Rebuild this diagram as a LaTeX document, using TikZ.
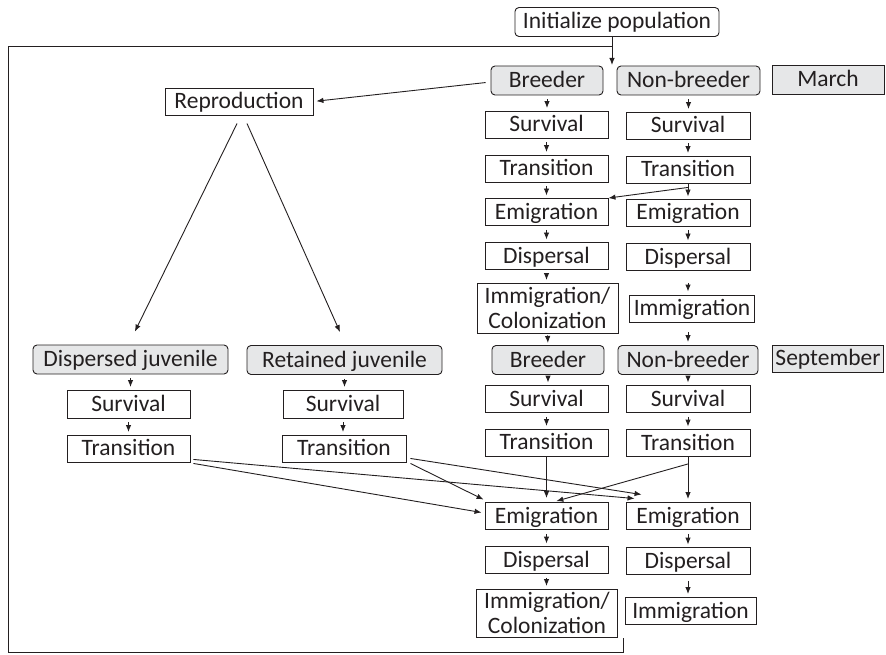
\documentclass[tikz,border=0pt]{standalone}
\usepackage{fontspec}
\setmainfont{Carlito}
\usetikzlibrary{arrows.meta,calc}
\definecolor{linec}{HTML}{231F20}
\definecolor{txtc}{HTML}{231F20}
\definecolor{gfill}{HTML}{E6E7E8}
\begin{document}
\begin{tikzpicture}[x=1pt,y=-1pt,
  every node/.style={font=\fontsize{23.5}{24.5}\selectfont, text=txtc},
  box/.style={draw=linec, line width=0.9pt, inner sep=0pt, minimum height=27, text height=14, text depth=0},
  ibox/.style={draw=linec, line width=0.9pt, inner sep=0pt, align=center},
  gbox/.style={box, fill=gfill, rounded corners=4pt, minimum height=29},
  mbox/.style={box, fill=gfill},
  conn/.style={draw=linec, line width=0.9pt},
  arr/.style={conn, -{Latex[length=7pt,width=5.5pt]}},
  sarr/.style={arr, shorten <=4pt, shorten >=2.5pt}]
\useasboundingbox (0,0) rectangle (886,655);
% right columns
\node[box, rounded corners=4pt, minimum width=204, minimum height=29] (init) at (617,22) {Initialize population};
\node[gbox, minimum width=112] (b1) at (547,80.5) {Breeder};
\node[gbox, minimum width=143] (nb1) at (688.5,80.5) {Non-breeder};
\node[mbox, minimum width=112, minimum height=29] (mar) at (828,80) {March};
\node[box, minimum width=123] (s1) at (546.5,124.5) {Survival};
\node[box, minimum width=124] (ns1) at (688,125.5) {Survival};
\node[box, minimum width=123] (t1) at (546.5,168.5) {Transition};
\node[box, minimum width=124] (nt1) at (688,169.5) {Transition};
\node[box, minimum width=123] (e1) at (546.5,212) {Emigration};
\node[box, minimum width=124] (ne1) at (688,212.5) {Emigration};
\node[box, minimum width=123] (d1) at (546.5,256) {Dispersal};
\node[box, minimum width=124] (nd1) at (688,257) {Dispersal};
\node[ibox, minimum width=141, minimum height=50] (ic1) at (547.5,308) {Immigration/\\Colonization};
\node[box, minimum width=125] (ni1) at (692,308.5) {Immigration};
\node[gbox, minimum width=112] (b2) at (548,360) {Breeder};
\node[gbox, minimum width=140] (nb2) at (688,360) {Non-breeder};
\node[mbox, minimum width=111] (sep) at (828,358.5) {September};
\node[box, minimum width=123] (s2) at (546.5,399) {Survival};
\node[box, minimum width=124] (ns2) at (688,399) {Survival};
\node[box, minimum width=123] (t2) at (546.5,442.5) {Transition};
\node[box, minimum width=124] (nt2) at (688,443) {Transition};
\node[box, minimum width=123] (e2) at (546.5,516) {Emigration};
\node[box, minimum width=124] (ne2) at (688,516) {Emigration};
\node[box, minimum width=123] (d2) at (546.5,560) {Dispersal};
\node[box, minimum width=124] (nd2) at (688,561) {Dispersal};
\node[ibox, minimum width=141, minimum height=48] (ic2) at (547,613) {Immigration/\\Colonization};
\node[box, minimum width=131] (ni2) at (690.5,611) {Immigration};
% left side
\node[box, minimum width=148] (rep) at (239,101.5) {Reproduction};
\node[gbox, minimum width=195] (dj) at (130.5,359.5) {Dispersed juvenile};
\node[box, minimum width=123, minimum height=28] (ds) at (128.5,404) {Survival};
\node[box, minimum width=123] (dt) at (128.5,448.5) {Transition};
\node[gbox, minimum width=195] (rj) at (344.5,360) {Retained juvenile};
\node[box, minimum width=120, minimum height=28] (rs) at (343,404) {Survival};
\node[box, minimum width=124] (rt) at (344,448.5) {Transition};
% loop
\coordinate (entry) at (612,65);
\coordinate (lp0) at (623,638);
\coordinate (lp1) at (8,652);
\coordinate (lp2) at (612,46);
\draw[arr] (init.south -| entry) -- (entry);
\draw[conn] (lp0) |- (lp1) |- (lp2);
% reproduction
\draw[arr, shorten <=5pt, shorten >=3pt] ([yshift=-1.5pt]b1.west) -- (rep.east);
\draw[arr, shorten <=8.9pt, shorten >=14.5pt] ([xshift=2pt]rep.south) -- ([xshift=-2pt]dj.north);
\draw[arr, shorten <=8.8pt, shorten >=14.2pt] ([xshift=4.4pt]rep.south) -- ([xshift=1.3pt]rj.north);
% small arrows
\foreach \a/\b in {b1/s1,s1/t1,t1/e1,e1/d1,d1/ic1,b2/s2,s2/t2,e2/d2,d2/ic2,
  nb1/ns1,ns1/nt1,ne1/nd1,nb2/ns2,ns2/nt2,ne2/nd2,dj/ds,ds/dt,rj/rs,rs/rt}
  \draw[sarr] (\a.south) -- (\a.south |- \b.north);
\draw[arr, shorten <=2pt, shorten >=2pt] (ic1.south) -- (b2.north);
\draw[arr, shorten <=12pt, shorten >=3pt] (nd1.south) -- (nd1.south |- ni1.north);
\draw[arr, shorten <=10pt, shorten >=3pt] (nb2.north |- ni1.south) -- (nb2.north);
\draw[arr, shorten <=6pt, shorten >=3pt] (nd2.south) -- (nd2.south |- ni2.north);
% top transition split
\coordinate (sp1) at ($(nt1.south)+(0,4)$);
\draw[arr, shorten >=2pt] (nt1.south) -- (ne1.north);
\draw[arr] (sp1) -- (e1.north east);
% bottom convergence
\draw[arr, shorten >=4pt] (t2.south) -- (e2.north);
\draw[arr, shorten >=3pt] (nt2.south) -- (ne2.north);
\coordinate (sp2) at ($(nt2.south)+(0,7)$);
\draw[arr, shorten >=3.5pt] (sp2) -- ([xshift=6.5pt]e2.north);
\draw[arr] ($(dt.south east)+(3,-3)$) -- ($(ne2.north west)+(9,-3.5)$);
\draw[arr] ($(dt.south east)+(3,1)$) -- ($(e2.west)+(-3,-3.5)$);
\draw[arr] ($(rt.south east)+(4,1)$) -- ($(e2.north west)+(-1,-2.5)$);
\draw[arr] ($(rt.south east)+(4,-4)$) -- ($(ne2.north west)+(16,-7.5)$);
\end{tikzpicture}
\end{document}
